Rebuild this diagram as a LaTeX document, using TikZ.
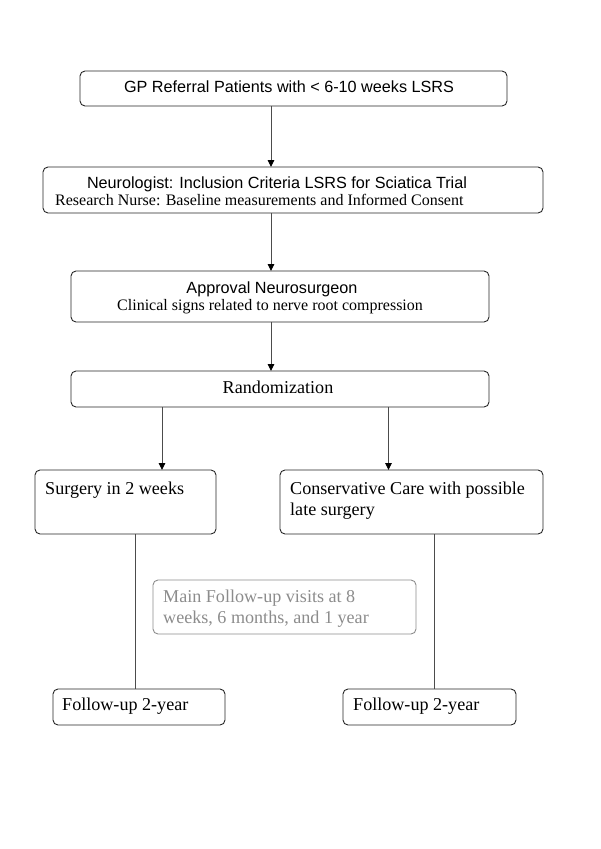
\documentclass[tikz,border=0pt]{standalone}
\usepackage{fontspec}
\setmainfont{Liberation Serif}
\newfontfamily\helv{Liberation Sans}
\usetikzlibrary{arrows.meta}

\begin{document}
\begin{tikzpicture}[x=1pt,y=-1pt,
  box/.style={draw=black!85,line width=0.9pt,rounded corners=5pt,inner sep=0pt,outer sep=0pt},
  greybox/.style={box,draw=black!45},
  serif/.style={inner sep=0pt,font=\fontsize{18.1}{21}\selectfont},
  small/.style={inner sep=0pt,font=\fontsize{16}{19}\selectfont},
  sans/.style={inner sep=0pt,font=\helv\fontsize{16.2}{19}\selectfont},
  link/.style={draw=black!70,line width=0.9pt},
  arr/.style={link,-{Triangle[length=7pt,width=6.5pt,black]}}]
\useasboundingbox (0,0) rectangle (600,849);

\node[box,minimum width=427pt,minimum height=35pt] (gp) at (293.5,88.5) {};
\node[sans,anchor=base] (gptxt) at (289,92) {GP Referral Patients with < 6-10 weeks LSRS};

\node[box,minimum width=500pt,minimum height=46pt] (neuro) at (293,190) {};
\node[sans,anchor=base] (neurotxt) at (277,188) {Neurologist: Inclusion Criteria LSRS for Sciatica Trial};
\node[small,anchor=base west] (nursetxt) at (55,205) {Research Nurse: Baseline measurements and Informed Consent};

\node[box,minimum width=418pt,minimum height=51pt] (appr) at (280,296.5) {};
\node[sans,anchor=base] (apprtxt) at (272,293) {Approval Neurosurgeon};
\node[small,anchor=base west] (signtxt) at (117,310) {Clinical signs related to nerve root compression};

\node[box,minimum width=418pt,minimum height=36pt] (rand) at (280,389) {};
\node[serif,anchor=base] (randtxt) at (278,393) {Randomization};

\node[box,minimum width=181pt,minimum height=64pt] (surg) at (125.5,502) {};
\node[serif,anchor=base west] (surgtxt) at (45,494) {Surgery in 2 weeks};

\node[box,minimum width=263pt,minimum height=64pt] (cons) at (411.5,502) {};
\node[serif,anchor=base west] (constxt) at (290,494) {Conservative Care with possible};
\node[serif,anchor=base west] (latetxt) at (290,515) {late surgery};

\node[greybox,minimum width=263pt,minimum height=54pt] (main) at (284.5,607) {};
\node[serif,anchor=base west,text=black!45] (maintxt) at (163,602) {Main Follow-up visits at 8};
\node[serif,anchor=base west,text=black!45] (weektxt) at (163,623) {weeks, 6 months, and 1 year};

\node[box,minimum width=172pt,minimum height=36pt] (fuL) at (139,707) {};
\node[serif,anchor=base west] (fuLtxt) at (62,710) {Follow-up 2-year};

\node[box,minimum width=173pt,minimum height=36pt] (fuR) at (429.5,707) {};
\node[serif,anchor=base west] (fuRtxt) at (353,710) {Follow-up 2-year};

\coordinate (spine) at (271,0);
\coordinate (lft) at (162,0);
\coordinate (rgt) at (388.5,0);
\coordinate (lftd) at (135,0);
\coordinate (rgtd) at (434,0);

\draw[arr] (gp.south -| spine) -- (neuro.north -| spine);
\draw[arr] (neuro.south -| spine) -- (appr.north -| spine);
\draw[arr] (appr.south -| spine) -- (rand.north -| spine);
\draw[arr] (rand.south -| lft) -- (surg.north -| lft);
\draw[arr] (rand.south -| rgt) -- (cons.north -| rgt);
\draw[link] (surg.south -| lftd) -- (fuL.north -| lftd);
\draw[link] (cons.south -| rgtd) -- (fuR.north -| rgtd);

\end{tikzpicture}
\end{document}
